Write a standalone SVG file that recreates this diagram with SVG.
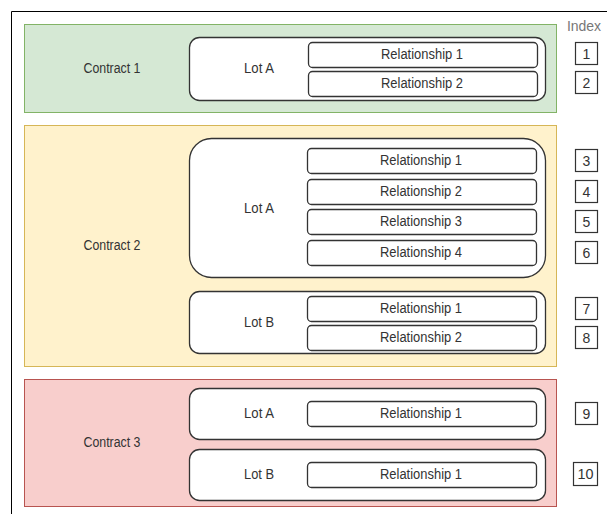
<svg xmlns="http://www.w3.org/2000/svg" width="607" height="514" viewBox="0 0 607 514">
<style>
text{font-family:"Liberation Sans",Arial,sans-serif;font-size:14px;fill:#333;text-anchor:middle;dominant-baseline:central}
.lot{fill:#fff;stroke:#333;stroke-width:1.3}
.rel{fill:#fff;stroke:#333;stroke-width:1.3}
.idx{fill:#fff;stroke:#333;stroke-width:1.2}
.c1{fill:#d5e8d4;stroke:#82b366}
.c2{fill:#fff2cc;stroke:#d6b656}
.c3{fill:#f8cecc;stroke:#b85450}
</style>
<rect width="607" height="514" fill="#fff"/>
<path d="M11.5 514V11.5H607" fill="none" stroke="#000" stroke-width="1"/>
<text x="584" y="26" style="fill:#777">Index</text>
<g id="contract1">
<rect class="c1" x="24.5" y="24.5" width="532" height="88"/>
<text x="112" y="68" textLength="57" lengthAdjust="spacingAndGlyphs">Contract 1</text>
<g id="c1-lotA">
<rect class="lot" x="189.5" y="37.5" width="356" height="63" rx="10"/>
<text x="259" y="68" textLength="30" lengthAdjust="spacingAndGlyphs">Lot A</text>
<rect class="rel" x="308.5" y="42.5" width="229" height="25" rx="4"/><text x="422" y="54" textLength="82" lengthAdjust="spacingAndGlyphs">Relationship 1</text>
<rect class="rel" x="308.5" y="71.5" width="229" height="25" rx="4"/><text x="422" y="83" textLength="82" lengthAdjust="spacingAndGlyphs">Relationship 2</text>
</g>
</g>
<g id="contract2">
<rect class="c2" x="24.5" y="125.5" width="532" height="241"/>
<text x="112" y="245" textLength="57" lengthAdjust="spacingAndGlyphs">Contract 2</text>
<g id="c2-lotA">
<rect class="lot" x="189.5" y="138.5" width="356" height="139" rx="22"/>
<text x="259" y="208" textLength="30" lengthAdjust="spacingAndGlyphs">Lot A</text>
<rect class="rel" x="307.5" y="148.5" width="229" height="25" rx="4"/><text x="421" y="160" textLength="82" lengthAdjust="spacingAndGlyphs">Relationship 1</text>
<rect class="rel" x="307.5" y="179.5" width="229" height="25" rx="4"/><text x="421" y="191" textLength="82" lengthAdjust="spacingAndGlyphs">Relationship 2</text>
<rect class="rel" x="307.5" y="209.5" width="229" height="25" rx="4"/><text x="421" y="221" textLength="82" lengthAdjust="spacingAndGlyphs">Relationship 3</text>
<rect class="rel" x="307.5" y="240.5" width="229" height="25" rx="4"/><text x="421" y="252" textLength="82" lengthAdjust="spacingAndGlyphs">Relationship 4</text>
</g>
<g id="c2-lotB">
<rect class="lot" x="189.5" y="291.5" width="356" height="62" rx="10"/>
<text x="259" y="322" textLength="30" lengthAdjust="spacingAndGlyphs">Lot B</text>
<rect class="rel" x="307.5" y="296.5" width="229" height="25" rx="4"/><text x="421" y="308" textLength="82" lengthAdjust="spacingAndGlyphs">Relationship 1</text>
<rect class="rel" x="307.5" y="325.5" width="229" height="25" rx="4"/><text x="421" y="337" textLength="82" lengthAdjust="spacingAndGlyphs">Relationship 2</text>
</g>
</g>
<g id="contract3">
<rect class="c3" x="24.5" y="379.5" width="532" height="127"/>
<text x="112" y="442" textLength="57" lengthAdjust="spacingAndGlyphs">Contract 3</text>
<g id="c3-lotA">
<rect class="lot" x="189.5" y="388.5" width="356" height="51" rx="10"/>
<text x="259" y="413" textLength="30" lengthAdjust="spacingAndGlyphs">Lot A</text>
<rect class="rel" x="307.5" y="401.5" width="229" height="25" rx="4"/><text x="421" y="413" textLength="82" lengthAdjust="spacingAndGlyphs">Relationship 1</text>
</g>
<g id="c3-lotB">
<rect class="lot" x="189.5" y="449.5" width="356" height="51" rx="10"/>
<text x="259" y="474" textLength="30" lengthAdjust="spacingAndGlyphs">Lot B</text>
<rect class="rel" x="307.5" y="462.5" width="229" height="25" rx="4"/><text x="421" y="474" textLength="82" lengthAdjust="spacingAndGlyphs">Relationship 1</text>
</g>
</g>
<g id="index">
<rect class="idx" x="575.5" y="42.5" width="22" height="22"/><text x="586.5" y="53.5">1</text>
<rect class="idx" x="575.5" y="71.5" width="22" height="22"/><text x="586.5" y="82.5">2</text>
<rect class="idx" x="575.5" y="149.5" width="22" height="22"/><text x="586.5" y="160.5">3</text>
<rect class="idx" x="575.5" y="180.5" width="22" height="22"/><text x="586.5" y="191.5">4</text>
<rect class="idx" x="575.5" y="210.5" width="22" height="22"/><text x="586.5" y="221.5">5</text>
<rect class="idx" x="575.5" y="241.5" width="22" height="22"/><text x="586.5" y="252.5">6</text>
<rect class="idx" x="575.5" y="297.5" width="22" height="22"/><text x="586.5" y="308.5">7</text>
<rect class="idx" x="575.5" y="326.5" width="22" height="22"/><text x="586.5" y="337.5">8</text>
<rect class="idx" x="575.5" y="402.5" width="22" height="22"/><text x="586.5" y="413.5">9</text>
<rect class="idx" x="573.5" y="462.5" width="24" height="23"/><text x="585.5" y="474" textLength="16" lengthAdjust="spacingAndGlyphs">10</text>
</g>
<g id="connectors"/>
</svg>
